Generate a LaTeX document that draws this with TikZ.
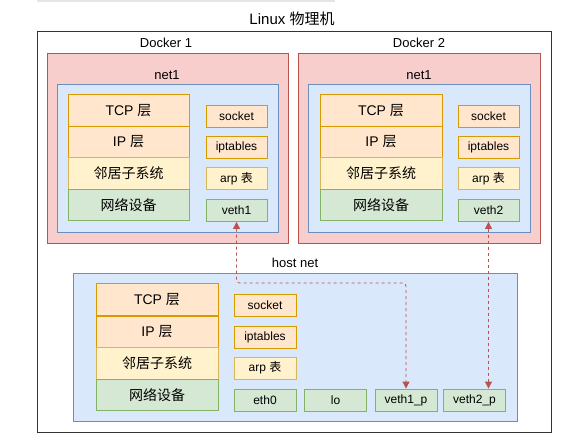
\documentclass[tikz,border=0pt]{standalone}
\usepackage{fontspec}
\setmainfont{Liberation Sans}
\newfontfamily\cjk{Noto Sans CJK SC}
\usetikzlibrary{arrows.meta}
\definecolor{orangefill}{HTML}{FFE6CC}
\definecolor{orangeline}{HTML}{D79B00}
\definecolor{yellowfill}{HTML}{FFF2CC}
\definecolor{yellowline}{HTML}{D6B656}
\definecolor{greenfill}{HTML}{D5E8D4}
\definecolor{greenline}{HTML}{82B366}
\definecolor{bluefill}{HTML}{DAE8FC}
\definecolor{blueline}{HTML}{6C8EBF}
\definecolor{redfill}{HTML}{F8CECC}
\definecolor{redline}{HTML}{B85450}
\tikzset{
  label13/.style={font=\fontsize{13}{15}\selectfont, inner sep=0pt},
  layer/.style={draw, line width=0.8pt, minimum width=121pt, minimum height=31.5pt,
    inner sep=0pt, font=\fontsize{14}{16}\selectfont},
  tag/.style={draw, line width=0.8pt, minimum width=61pt, minimum height=22pt,
    inner sep=0pt, font=\fontsize{12}{14}\selectfont},
  orange/.style={fill=orangefill, draw=orangeline},
  yellow/.style={fill=yellowfill, draw=yellowline},
  green/.style={fill=greenfill, draw=greenline},
  docker/.style={draw=redline, fill=redfill, line width=0.8pt, minimum width=241pt,
    minimum height=190pt, inner sep=0pt},
  netbox/.style={draw=blueline, fill=bluefill, line width=0.8pt, minimum height=148pt,
    inner sep=0pt},
  link/.style={redline, line width=0.8pt, dash pattern=on 3pt off 3pt, rounded corners=3pt,
    {Triangle[width=7pt,length=7pt]}-{Triangle[width=7pt,length=7pt]}}
}
\begin{document}
\begin{tikzpicture}[x=1pt,y=-1pt]
  \useasboundingbox (0,0) rectangle (577,443);
  \draw[gray!20, line width=1.2pt] (37,1) -- (335,1);
  % physical machine
  \node[label13, font=\fontsize{15}{17}\selectfont] (title) at (292,19) {Linux {\cjk 物理机}};
  \node[draw=black!80, line width=1pt, minimum width=514pt, minimum height=400pt] (linux) at (294,232) {};
  % docker 1
  \node[label13] (dk1label) at (166,43) {Docker 1};
  \node[docker] (dk1) at (167.5,148) {};
  \node[label13] (net1label) at (167,75) {net1};
  \node[netbox, minimum width=221pt] (net1) at (167.5,158) {};
  \node[layer, orange] (tcp1) at (128.5,110.5) {TCP {\cjk 层}};
  \node[layer, orange] (ip1) at (128.5,142) {IP {\cjk 层}};
  \node[layer, yellow] (neigh1) at (128.5,173.5) {\cjk 邻居子系统};
  \node[layer, green] (dev1) at (128.5,205) {\cjk 网络设备};
  \node[tag, orange] (socket1) at (236.5,116) {socket};
  \node[tag, orange] (ipt1) at (236.5,147.5) {iptables};
  \node[tag, yellow] (arp1) at (236.5,178.5) {arp {\cjk 表}};
  \node[tag, green] (veth1) at (236.5,210.5) {veth1};
  % docker 2
  \node[label13] (dk2label) at (419,43) {Docker 2};
  \node[docker, minimum width=242pt] (dk2) at (419,148) {};
  \node[label13] (net2label) at (419,75) {net1};
  \node[netbox, minimum width=222pt] (net2) at (419,158) {};
  \node[layer, orange, minimum width=122pt] (tcp2) at (381,110.5) {TCP {\cjk 层}};
  \node[layer, orange, minimum width=122pt] (ip2) at (381,142) {IP {\cjk 层}};
  \node[layer, yellow, minimum width=122pt] (neigh2) at (381,173.5) {\cjk 邻居子系统};
  \node[layer, green, minimum width=122pt] (dev2) at (381,205) {\cjk 网络设备};
  \node[tag, orange] (socket2) at (488.5,116) {socket};
  \node[tag, orange] (ipt2) at (488.5,147.5) {iptables};
  \node[tag, yellow] (arp2) at (488.5,178.5) {arp {\cjk 表}};
  \node[tag, green] (veth2) at (488.5,210.5) {veth2};
  % host network
  \node[label13] (hostlabel) at (295,263) {host net};
  \node[netbox, minimum width=444pt] (host) at (295,347) {};
  \node[layer, orange, minimum width=122pt] (tcp0) at (157,299.5) {TCP {\cjk 层}};
  \node[layer, orange, minimum width=122pt] (ip0) at (157,332) {IP {\cjk 层}};
  \node[layer, yellow, minimum width=122pt] (neigh0) at (157,363.5) {\cjk 邻居子系统};
  \node[layer, green, minimum width=122pt] (dev0) at (157,395) {\cjk 网络设备};
  \node[tag, orange, minimum width=62pt] (socket0) at (265,305) {socket};
  \node[tag, orange, minimum width=62pt] (ipt0) at (265,337) {iptables};
  \node[tag, yellow, minimum width=62pt] (arp0) at (265,368) {arp {\cjk 表}};
  \node[tag, green, minimum width=62pt] (eth0) at (265,400) {eth0};
  \node[tag, green, minimum width=62pt] (lo) at (335.5,400) {lo};
  \node[tag, green, minimum width=62pt] (veth1p) at (406,400) {veth1\_p};
  \node[tag, green, minimum width=62pt] (veth2p) at (474.5,400) {veth2\_p};
  % veth pairs
  \draw[link] (veth1.south) -- (veth1.south |- 0,283) -- (veth1p.north |- 0,283) -- (veth1p.north);
  \draw[link] (veth2.south) -- (veth2.south |- veth2p.north);
\end{tikzpicture}
\end{document}
